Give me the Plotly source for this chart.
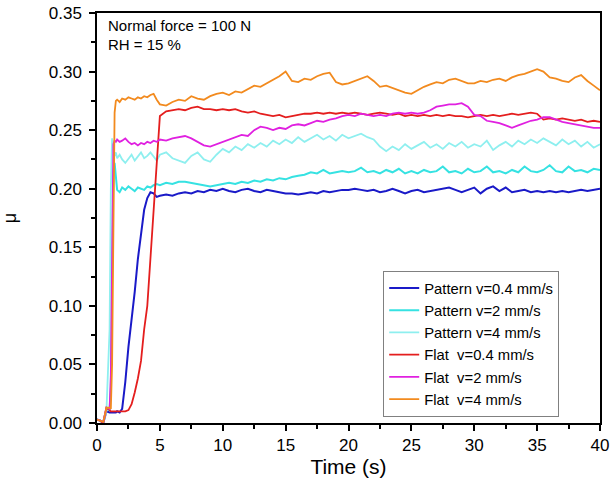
import plotly.graph_objects as go

time_head = [0, 0.25, 0.5, 0.75, 1.0, 1.1, 1.2, 1.3, 1.4, 1.5, 1.6, 1.8, 2.0,
             2.25, 2.5, 2.75, 3.0, 3.25, 3.5, 3.75, 4.0, 4.25, 4.5, 4.75, 5.0]
time_tail = [5.5 + 0.5 * i for i in range(70)]
time_s = time_head + time_tail

pattern_04 = [0.003, 0.002, 0.000, 0.010, 0.009, 0.009, 0.009, 0.009, 0.009, 0.009, 0.010, 0.009, 0.012,
              0.035, 0.065, 0.088, 0.112, 0.140, 0.162, 0.182, 0.192, 0.197, 0.196, 0.193, 0.194,
              0.195, 0.194, 0.196, 0.197, 0.196, 0.198, 0.197, 0.199, 0.198, 0.200,
              0.198, 0.197, 0.199, 0.200, 0.198, 0.197, 0.199, 0.198, 0.197, 0.196,
              0.196, 0.195, 0.196, 0.197, 0.196, 0.198, 0.197, 0.198, 0.199, 0.199,
              0.200, 0.199, 0.198, 0.199, 0.197, 0.198, 0.200, 0.198, 0.196, 0.198,
              0.199, 0.197, 0.198, 0.199, 0.200, 0.201, 0.199, 0.197, 0.199, 0.201,
              0.196, 0.200, 0.202, 0.198, 0.201, 0.197, 0.198, 0.199, 0.197, 0.198,
              0.197, 0.198, 0.197, 0.198, 0.197, 0.198, 0.199, 0.198, 0.199, 0.200]

pattern_2 = [0.003, 0.002, 0.001, 0.012, 0.011, 0.030, 0.120, 0.215, 0.222, 0.210, 0.199, 0.197, 0.201,
             0.199, 0.202, 0.200, 0.198, 0.201, 0.200, 0.199, 0.202, 0.201, 0.203, 0.204, 0.203,
             0.205, 0.204, 0.206, 0.206, 0.205, 0.204, 0.203, 0.202, 0.203, 0.204,
             0.205, 0.204, 0.206, 0.205, 0.207, 0.206, 0.208, 0.207, 0.209, 0.208,
             0.210, 0.211, 0.212, 0.214, 0.213, 0.216, 0.213, 0.214, 0.215, 0.214,
             0.215, 0.218, 0.214, 0.215, 0.213, 0.216, 0.214, 0.217, 0.213, 0.215,
             0.213, 0.216, 0.214, 0.215, 0.219, 0.214, 0.215, 0.213, 0.217, 0.214,
             0.215, 0.219, 0.214, 0.215, 0.213, 0.216, 0.214, 0.219, 0.215, 0.214,
             0.216, 0.220, 0.215, 0.214, 0.219, 0.215, 0.216, 0.214, 0.217, 0.216]

pattern_4 = [0.003, 0.002, 0.000, 0.010, 0.080, 0.200, 0.243, 0.236, 0.228, 0.231, 0.226, 0.229, 0.225,
             0.222, 0.226, 0.229, 0.224, 0.228, 0.231, 0.226, 0.228, 0.231, 0.227, 0.224, 0.229,
             0.231, 0.226, 0.224, 0.222, 0.228, 0.231, 0.225, 0.223, 0.229, 0.234,
             0.231, 0.236, 0.233, 0.238, 0.235, 0.239, 0.236, 0.241, 0.238, 0.242,
             0.239, 0.244, 0.240, 0.243, 0.246, 0.242, 0.245, 0.241, 0.246, 0.243,
             0.245, 0.247, 0.244, 0.242, 0.236, 0.232, 0.236, 0.233, 0.238, 0.234,
             0.237, 0.240, 0.235, 0.238, 0.234, 0.239, 0.236, 0.240, 0.235, 0.238,
             0.236, 0.241, 0.233, 0.237, 0.240, 0.236, 0.241, 0.238, 0.242, 0.239,
             0.243, 0.240, 0.237, 0.242, 0.238, 0.241, 0.236, 0.240, 0.235, 0.238]

flat_04 = [0.003, 0.002, 0.000, 0.013, 0.011, 0.010, 0.010, 0.010, 0.010, 0.010, 0.010, 0.010, 0.010,
           0.010, 0.011, 0.016, 0.026, 0.038, 0.053, 0.080, 0.100, 0.140, 0.180, 0.225, 0.262,
           0.266, 0.267, 0.268, 0.267, 0.269, 0.270, 0.268, 0.268, 0.267, 0.268,
           0.267, 0.268, 0.266, 0.265, 0.266, 0.264, 0.263, 0.262, 0.263, 0.261,
           0.262, 0.263, 0.264, 0.264, 0.265, 0.264, 0.265, 0.264, 0.265, 0.264,
           0.265, 0.264, 0.263, 0.264, 0.265, 0.264, 0.263, 0.264, 0.262, 0.263,
           0.262, 0.263, 0.262, 0.263, 0.262, 0.263, 0.262, 0.262, 0.261, 0.262,
           0.263, 0.262, 0.263, 0.262, 0.263, 0.264, 0.263, 0.264, 0.265, 0.264,
           0.259, 0.260, 0.259, 0.260, 0.259, 0.258, 0.259, 0.257, 0.258, 0.257]

flat_2 = [0.003, 0.002, 0.001, 0.013, 0.012, 0.040, 0.150, 0.238, 0.241, 0.240, 0.242, 0.240, 0.241,
          0.243, 0.240, 0.238, 0.239, 0.237, 0.239, 0.238, 0.240, 0.239, 0.241, 0.240, 0.242,
          0.241, 0.243, 0.244, 0.245, 0.243, 0.240, 0.237, 0.236, 0.238, 0.240,
          0.242, 0.244, 0.246, 0.245, 0.250, 0.253, 0.252, 0.250, 0.252, 0.251,
          0.254, 0.255, 0.254, 0.256, 0.258, 0.257, 0.259, 0.260, 0.262, 0.263,
          0.262, 0.264, 0.263, 0.262, 0.263, 0.262, 0.264, 0.265, 0.264, 0.265,
          0.264, 0.265, 0.267, 0.270, 0.271, 0.272, 0.272, 0.273, 0.270, 0.263,
          0.262, 0.258, 0.257, 0.256, 0.254, 0.252, 0.254, 0.256, 0.258, 0.259,
          0.261, 0.261, 0.259, 0.257, 0.256, 0.255, 0.254, 0.253, 0.252, 0.252]

flat_4 = [0.003, 0.002, 0.001, 0.013, 0.013, 0.012, 0.050, 0.160, 0.265, 0.275, 0.276, 0.274, 0.277,
          0.276, 0.278, 0.277, 0.276, 0.278, 0.277, 0.279, 0.278, 0.280, 0.281, 0.276, 0.272,
          0.271, 0.274, 0.276, 0.275, 0.279, 0.277, 0.276, 0.279, 0.281, 0.282,
          0.280, 0.283, 0.282, 0.285, 0.288, 0.287, 0.290, 0.293, 0.296, 0.300,
          0.292, 0.291, 0.294, 0.293, 0.296, 0.298, 0.299, 0.291, 0.289, 0.290,
          0.292, 0.294, 0.296, 0.292, 0.287, 0.288, 0.286, 0.284, 0.282, 0.281,
          0.284, 0.287, 0.289, 0.291, 0.290, 0.293, 0.294, 0.292, 0.290, 0.290,
          0.292, 0.291, 0.293, 0.294, 0.292, 0.295, 0.297, 0.298, 0.300, 0.302,
          0.300, 0.295, 0.294, 0.292, 0.291, 0.295, 0.297, 0.292, 0.288, 0.284]

series_names = ["Pattern v=0.4 mm/s", "Pattern v=2 mm/s", "Pattern v=4 mm/s",
                "Flat  v=0.4 mm/s", "Flat  v=2 mm/s", "Flat  v=4 mm/s"]
series_values = [pattern_04, pattern_2, pattern_4, flat_04, flat_2, flat_4]
series_colors = ["#1a1ac8", "#36e2e2", "#8eefef", "#e41e1e", "#e020e0", "#f28a1e"]
series_widths = [2, 2, 1.8, 1.8, 1.8, 1.8]

x_ticks = [0, 5, 10, 15, 20, 25, 30, 35, 40]
y_ticks = [0.00, 0.05, 0.10, 0.15, 0.20, 0.25, 0.30, 0.35]

fig = go.Figure()
for name, vals, col, w in zip(series_names, series_values, series_colors, series_widths):
    fig.add_trace(go.Scatter(x=time_s, y=vals, mode="lines", name=name,
                             line=dict(color=col, width=w)))

font_family = "Liberation Sans, Arial, sans-serif"
fig.update_layout(
    width=613, height=489,
    margin=dict(l=97, r=13, t=13, b=66, autoexpand=False),
    paper_bgcolor="white", plot_bgcolor="white",
    font=dict(family=font_family, color="black"),
    showlegend=True,
    legend=dict(x=0.569, y=0.015, xanchor="left", yanchor="bottom",
                bgcolor="white", bordercolor="#808080", borderwidth=1,
                font=dict(size=14.8, family=font_family), tracegroupgap=0,
                itemwidth=30),
    annotations=[
        dict(text="Normal force = 100 N", x=0.018, y=0.97, xref="paper", yref="paper",
             xanchor="left", yanchor="middle", showarrow=False, font=dict(size=15)),
        dict(text="RH = 15 %", x=0.018, y=0.922, xref="paper", yref="paper",
             xanchor="left", yanchor="middle", showarrow=False, font=dict(size=15)),
    ],
)
fig.update_xaxes(range=[0, 40], tickvals=x_ticks, ticktext=[str(v) for v in x_ticks],
                 automargin=False,
                 showgrid=False, zeroline=False, showline=True, linecolor="black", linewidth=1.5,
                 mirror=True, ticks="outside", ticklen=6, tickwidth=1.5, tickcolor="black",
                 minor=dict(tickvals=[2.5, 7.5, 12.5, 17.5, 22.5, 27.5, 32.5, 37.5],
                            ticks="outside", ticklen=4, tickwidth=1.5, tickcolor="black"),
                 tickfont=dict(size=17), ticklabelstandoff=0,
                 title=dict(text="Time (s)", font=dict(size=21), standoff=4))
fig.update_yaxes(range=[0, 0.35], tickvals=y_ticks, ticktext=["%.2f" % v for v in y_ticks],
                 automargin=False,
                 showgrid=False, zeroline=False, showline=True, linecolor="black", linewidth=1.5,
                 mirror=True, ticks="outside", ticklen=6, tickwidth=1.5, tickcolor="black",
                 minor=dict(tickvals=[0.025, 0.075, 0.125, 0.175, 0.225, 0.275, 0.325],
                            ticks="outside", ticklen=4, tickwidth=1.5, tickcolor="black"),
                 tickfont=dict(size=17), ticklabelstandoff=4,
                 title=dict(text="μ", font=dict(size=18), standoff=31))

fig.write_html("out.html", config={"displayModeBar": False},
               post_script="document.body.style.margin='0px';")
